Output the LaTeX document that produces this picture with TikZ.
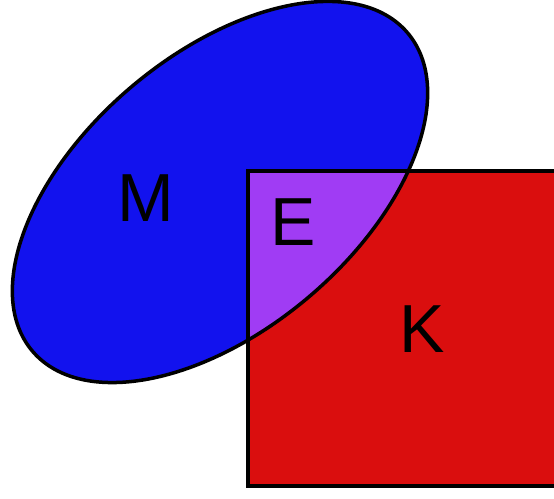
\documentclass[tikz,border=0pt]{standalone}
\usepackage{fontspec}
\setmainfont{Liberation Sans}
\definecolor{setblue}{HTML}{1212EE}
\definecolor{setred}{HTML}{DA0E0E}
\definecolor{setpurple}{HTML}{A03CF4}

\begin{document}
\begin{tikzpicture}[x=1pt,y=1pt,
  outline/.style={draw=black,line width=3.5pt},
  setlabel/.style={font=\fontsize{68}{68}\selectfont,inner sep=0pt}]
  \useasboundingbox (0,0) rectangle (554,498);
  \clip (0,0) rectangle (554,498);
  % filled regions
  \fill[setblue,rotate around={40.3:(220,306)}] (220,306) ellipse [x radius=246,y radius=137.5];
  \fill[setred] (248,12) rectangle (562,327);
  \begin{scope}
    \clip[rotate around={40.3:(220,306)}] (220,306) ellipse [x radius=246,y radius=137.5];
    \fill[setpurple] (248,12) rectangle (562,327);
  \end{scope}
  % outlines
  \draw[outline,rotate around={40.3:(220,306)}] (220,306) ellipse [x radius=246,y radius=137.5];
  \draw[outline] (248,12) rectangle (562,327);
  % labels
  \node[setlabel] (M) at (146,300) {M};
  \node[setlabel] (E) at (293,276) {E};
  \node[setlabel] (K) at (422,169) {K};
\end{tikzpicture}
\end{document}
